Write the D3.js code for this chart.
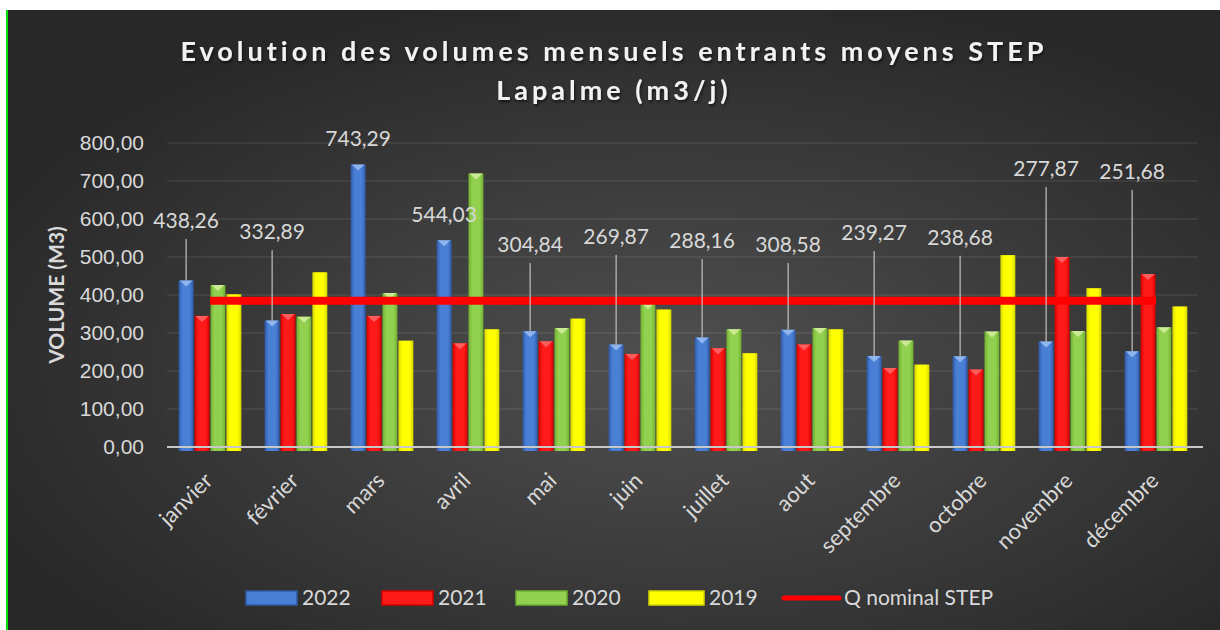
<!DOCTYPE html>
<html>
<head>
<meta charset="utf-8">
<script src="https://cdn.jsdelivr.net/npm/d3@7"></script>
<style>
  body { margin: 0; background: #fff; }
  svg { display: block; font-family: Lato, "Open Sans", sans-serif; }
</style>
</head>
<body>
<script>
// data
var months = ["janvier", "février", "mars", "avril", "mai", "juin",
              "juillet", "aout", "septembre", "octobre", "novembre", "décembre"];
var years = ["2022", "2021", "2020", "2019"];
var v2022 = [438.26, 332.89, 743.29, 544.03, 304.84, 269.87, 288.16, 308.58, 239.27, 238.68, 277.87, 251.68];
var v2021 = [345, 350, 345, 273, 278, 245, 260, 270, 208, 204, 500, 455];
var v2020 = [426, 343, 405, 720, 313, 378, 310, 313, 280, 304, 305, 315];
var v2019 = [402, 460, 280, 310, 338, 362, 247, 310, 217, 505, 418, 370];
var qNominal = [385, 385, 385, 385, 385, 385, 385, 385, 385, 385, 385, 385];
var yTicks = [0, 100, 200, 300, 400, 500, 600, 700, 800];

// where the 2022 labels were dragged to (in axis units)
var labelAt = [576, 547, 792, 592, 513, 534, 524, 513, 545, 532, 713, 705];

var W = 1220, H = 630;
var colors = { "2022": ["#2f5aa8", "#4a7fd6", "#9cc0f5"],
               "2021": ["#d40000", "#ff1a1a", "#ff6a6a"],
               "2020": ["#6fae2e", "#92d050", "#d4f0a0"],
               "2019": ["#d6d600", "#ffff00", "#ffff99"] };
var seriesVals = { "2022": v2022, "2021": v2021, "2020": v2020, "2019": v2019 };

var locale = d3.formatLocale({ decimal: ",", thousands: " ", grouping: [3], currency: ["", " €"] });
var fmt = locale.format(".2f");

var svg = d3.select("body").append("svg")
    .attr("width", W)
    .attr("height", H);

var defs = svg.append("defs");
var bg = defs.append("radialGradient")
    .attr("id", "bg")
    .attr("cx", "55%").attr("cy", "58%").attr("r", "62%");
bg.append("stop").attr("offset", "0%").attr("stop-color", "#505050");
bg.append("stop").attr("offset", "100%").attr("stop-color", "#282828");

years.forEach(function (y) {
    var g = defs.append("linearGradient").attr("id", "g" + y)
        .attr("x1", "0%").attr("x2", "100%").attr("y1", "0%").attr("y2", "0%");
    g.append("stop").attr("offset", "0%").attr("stop-color", colors[y][0]);
    g.append("stop").attr("offset", "25%").attr("stop-color", colors[y][1]);
    g.append("stop").attr("offset", "75%").attr("stop-color", colors[y][1]);
    g.append("stop").attr("offset", "100%").attr("stop-color", colors[y][0]);
});

var shadow = defs.append("filter").attr("id", "shadow")
    .attr("x", "-10%").attr("y", "-30%").attr("width", "120%").attr("height", "160%");
shadow.append("feDropShadow").attr("dx", 1).attr("dy", 2).attr("stdDeviation", 1.5)
    .attr("flood-color", "#000").attr("flood-opacity", 0.6);

// chart area
svg.append("rect")
    .attr("x", 7).attr("y", 10)
    .attr("width", W - 7).attr("height", H - 10)
    .attr("fill", "url(#bg)");
svg.append("rect")
    .attr("x", 6).attr("y", 10)
    .attr("width", 2).attr("height", H - 10)
    .attr("fill", "#00e000");

var x0 = d3.scaleBand()
    .domain(months)
    .range([167, 1199])
    .paddingInner(0.26)
    .paddingOuter(0.13);

var x1 = d3.scaleBand()
    .domain(years)
    .range([0, x0.bandwidth()]);

var y = d3.scaleLinear()
    .domain([0, 800])
    .range([447, 143]);

// gridlines
svg.append("g")
    .selectAll("line")
    .data(yTicks.slice(1))
    .enter()
    .append("line")
    .attr("x1", 167).attr("x2", 1198)
    .attr("y1", d => y(d)).attr("y2", d => y(d))
    .attr("stroke", "#ffffff")
    .attr("stroke-opacity", 0.13)
    .attr("stroke-width", 1);

// y axis
var yAxis = svg.append("g")
    .attr("transform", "translate(150,0)")
    .call(d3.axisLeft(y).tickValues(yTicks).tickFormat(fmt).tickSize(0).tickPadding(6));
yAxis.select(".domain").remove();
yAxis.selectAll("text")
    .attr("fill", "#d9d9d9")
    .style("font-size", "21px");

svg.append("text")
    .attr("transform", "translate(64,295) rotate(-90)")
    .attr("text-anchor", "middle")
    .attr("fill", "#d9d9d9")
    .style("font-size", "21px")
    .style("font-weight", "bold")
    .text("VOLUME (M3)");

// bars
var groups = svg.append("g")
    .selectAll("g")
    .data(months)
    .enter()
    .append("g")
    .attr("transform", d => "translate(" + x0(d) + ",0)");

var bars = groups.selectAll("g")
    .data(function (m, i) {
        return years.map(function (yr) { return { year: yr, value: seriesVals[yr][i] }; });
    })
    .enter()
    .append("g");

bars.append("rect")
    .attr("x", d => x1(d.year) + 0.5)
    .attr("y", d => y(d.value))
    .attr("width", x1.bandwidth() - 1)
    .attr("height", d => y(0) - y(d.value) + 4)
    .attr("fill", d => "url(#g" + d.year + ")");

bars.filter(d => d.year !== "2019")
    .append("path")
    .attr("d", function (d) {
        var xl = x1(d.year) + 1.5, xr = x1(d.year) + x1.bandwidth() - 1.5, t = y(d.value);
        return "M" + xl + "," + t + "L" + xr + "," + t + "L" + (xl + xr) / 2 + "," + (t + 6) + "Z";
    })
    .attr("fill", d => colors[d.year][2])
    .attr("opacity", 0.85);

// baseline
svg.append("line")
    .attr("x1", 167).attr("x2", 1203)
    .attr("y1", y(0)).attr("y2", y(0))
    .attr("stroke", "#c8c8c8")
    .attr("stroke-width", 2);

// Q nominal line
var line = d3.line()
    .x((d, i) => x0(months[i]) + x0.bandwidth() / 2)
    .y(d => y(d));
svg.append("path")
    .datum(qNominal)
    .attr("d", line)
    .attr("fill", "none")
    .attr("stroke", "#ff0000")
    .attr("stroke-width", 8);

// 2022 labels with leader lines
var labData = v2022.map((v, i) => ({
    value: v,
    month: months[i],
    at: labelAt[i]
}));
var barMid = d => x0(d.month) + x1("2022") + x1.bandwidth() / 2;

var lab = svg.append("g")
    .selectAll("g")
    .data(labData)
    .enter()
    .append("g");

lab.filter(d => y(d.value) - y(d.at) > 30)
    .append("line")
    .attr("x1", barMid)
    .attr("x2", barMid)
    .attr("y1", d => y(d.at) + 11)
    .attr("y2", d => y(d.value))
    .attr("stroke", "#bfbfbf")
    .attr("stroke-width", 1.2);

lab.append("text")
    .attr("x", barMid)
    .attr("y", d => y(d.at))
    .attr("text-anchor", "middle")
    .attr("fill", "#d9d9d9")
    .style("font-size", "21px")
    .text(d => fmt(d.value));

// month labels
svg.append("g")
    .selectAll("text")
    .data(months)
    .enter()
    .append("text")
    .attr("transform", d => "translate(" + (x0(d) + x0.bandwidth() / 2 + 4) + ",482) rotate(-45)")
    .attr("text-anchor", "end")
    .attr("fill", "#d9d9d9")
    .style("font-size", "22px")
    .text(d => d);

// title
var title = svg.append("text")
    .attr("text-anchor", "middle")
    .attr("fill", "#f2f2f2")
    .attr("filter", "url(#shadow)")
    .style("font-size", "27px")
    .style("font-weight", "bold")
    .style("letter-spacing", "4px");
title.append("tspan").attr("x", 614).attr("y", 61)
    .text("Evolution des volumes mensuels entrants moyens STEP");
title.append("tspan").attr("x", 614).attr("y", 100)
    .text("Lapalme (m3/j)");

// legend
var legendItems = years.map(yr => ({ key: yr, kind: "bar" }))
    .concat([{ key: "Q nominal STEP", kind: "line" }]);
var legendX = [246, 382, 516, 649, 784];
var leg = svg.append("g")
    .selectAll("g")
    .data(legendItems)
    .enter()
    .append("g")
    .attr("transform", (d, i) => "translate(" + legendX[i] + ",598)");

leg.filter(d => d.kind === "bar")
    .append("rect")
    .attr("x", 0).attr("y", -7)
    .attr("width", d => d.key === "2019" ? 55 : 51)
    .attr("height", 14)
    .attr("fill", d => colors[d.key][1])
    .attr("stroke", d => colors[d.key][0])
    .attr("stroke-width", 1.5);

leg.filter(d => d.kind === "line")
    .append("line")
    .attr("x1", 0).attr("x2", 55)
    .attr("y1", 0).attr("y2", 0)
    .attr("stroke", "#ff0000")
    .attr("stroke-width", 5)
    .attr("stroke-linecap", "round");

leg.append("text")
    .attr("x", d => d.kind === "line" ? 60 : (d.key === "2019" ? 60 : 56))
    .attr("y", 7)
    .attr("fill", "#d9d9d9")
    .style("font-size", "21px")
    .text(d => d.key);
</script>
</body>
</html>
